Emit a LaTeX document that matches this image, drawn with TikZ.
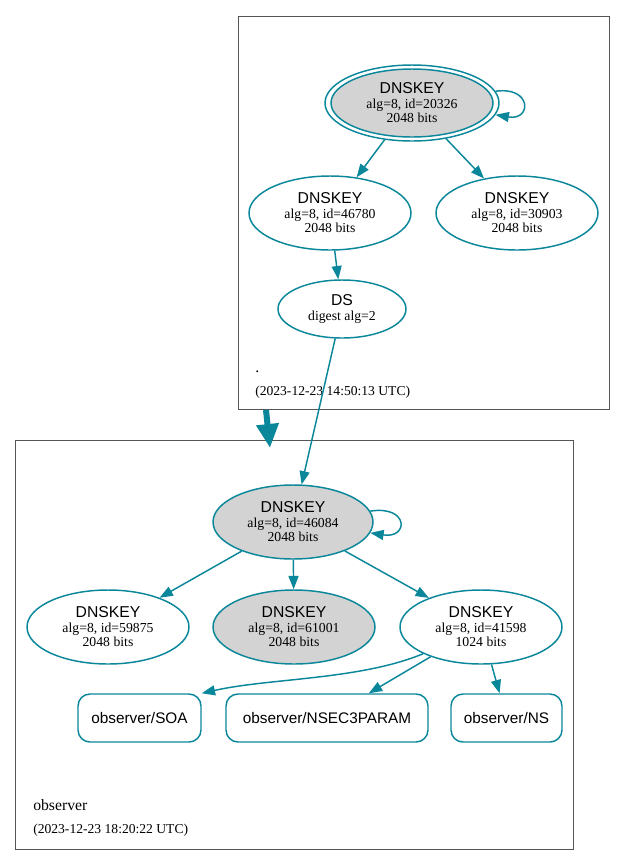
\documentclass[tikz,border=0pt]{standalone}
\usepackage{fontspec}
\setmainfont{Liberation Serif}
\setsansfont{Liberation Sans}
\usetikzlibrary{shapes.geometric,arrows.meta}
\definecolor{edge}{HTML}{0A879A}
\definecolor{keyfill}{HTML}{D3D3D3}
\definecolor{clus}{HTML}{555555}
\newcommand{\keylbl}[2]{{\sffamily\fontsize{11.8}{12}\selectfont DNSKEY}\\[0.3pt]alg=8, id=#1\\[-0.5pt]#2 bits}
\tikzset{
  keynode/.style={ellipse, draw=edge, line width=1.1pt, minimum width=121.5pt, minimum height=55.5pt,
     inner sep=0pt, align=center, font=\fontsize{10.3}{11}\selectfont},
  graykey/.style={keynode, fill=keyfill},
  rrbox/.style={rectangle, rounded corners=9pt, draw=edge, line width=1.1pt, minimum height=36pt,
     inner sep=0pt, font=\sffamily\fontsize{11.5}{12}\selectfont},
  clusterbox/.style={rectangle, draw=clus, line width=0.7pt, inner sep=0pt},
  conn/.style={draw=edge, line width=1.1pt, -{Triangle[length=10pt,width=7.5pt]}},
  bigconn/.style={draw=edge, line width=4.5pt, -{Triangle[length=18pt,width=16pt]}},
  clname/.style={anchor=base west, inner sep=0pt, font=\fontsize{11.8}{12}\selectfont},
  cldate/.style={anchor=base west, inner sep=0pt, font=\fontsize{10.2}{11}\selectfont}
}
\begin{document}
\begin{tikzpicture}[x=0.75pt,y=-0.75pt]
\useasboundingbox (0,0) rectangle (625,865);
% clusters
\node[clusterbox, minimum width=278.25pt, minimum height=294.75pt] (topc) at (423.5,212.5) {};
\node[clusterbox, minimum width=418.5pt, minimum height=306.75pt] (botc) at (294,644.5) {};
\node[clname] (rootname) at (255,372) {.};
\node[cldate] (rootdate) at (255,395) {(2023-12-23 14:50:13 UTC)};
\node[clname] (obsname) at (33,810) {observer};
\node[cldate] (obsdate) at (33,833) {(2023-12-23 18:20:22 UTC)};
% top zone
\node[ellipse, draw=edge, line width=1.1pt, minimum width=130.5pt, minimum height=57pt, inner sep=0pt] (k20326o) at (412,103) {};
\node[graykey, minimum width=121.5pt, minimum height=51pt] (k20326) at (412,103) {\keylbl{20326}{2048}};
\node[keynode] (k46780) at (330,213) {\keylbl{46780}{2048}};
\node[keynode] (k30903) at (517,213) {\keylbl{30903}{2048}};
\node[keynode, minimum width=96pt, minimum height=43.5pt] (ds) at (342,309)
  {{\sffamily\fontsize{11.8}{12}\selectfont DS}\\[0.3pt]digest alg=2};
% bottom zone
\node[graykey, minimum width=120pt] (k46084) at (293,522) {\keylbl{46084}{2048}};
\node[keynode] (k59875) at (108,627) {\keylbl{59875}{2048}};
\node[graykey] (k61001) at (294,627) {\keylbl{61001}{2048}};
\node[keynode] (k41598) at (481,627) {\keylbl{41598}{1024}};
\node[rrbox, minimum width=92.25pt] (soa) at (139.5,718) {observer/SOA};
\node[rrbox, minimum width=151.5pt] (nsec) at (327,718) {observer/NSEC3PARAM};
\node[rrbox, minimum width=83.25pt] (ns) at (506.5,718) {observer/NS};
% edges
\draw[conn] (k20326o.8) .. controls (532,86) and (532,121) .. (k20326o.-8);
\draw[conn] (k20326o) -- (k46780);
\draw[conn] (k20326o) -- (k30903);
\draw[conn] (k46780) -- (ds);
\draw[conn] (ds) -- (k46084);
\coordinate (bigs) at (266,410);
\coordinate (bige) at (270,448);
\draw[bigconn] (bigs) -- (bige);
\draw[conn] (k46084.8) .. controls (409,505) and (409,539) .. (k46084.-8);
\draw[conn] (k46084) -- (k59875);
\draw[conn] (k46084) -- (k61001);
\draw[conn] (k46084) -- (k41598);
\draw[conn] (k41598.south west) .. controls (360,680) and (270,678) .. (soa.north east);
\draw[conn] (k41598) -- (nsec);
\draw[conn] (k41598) -- (ns);
\end{tikzpicture}
\end{document}
